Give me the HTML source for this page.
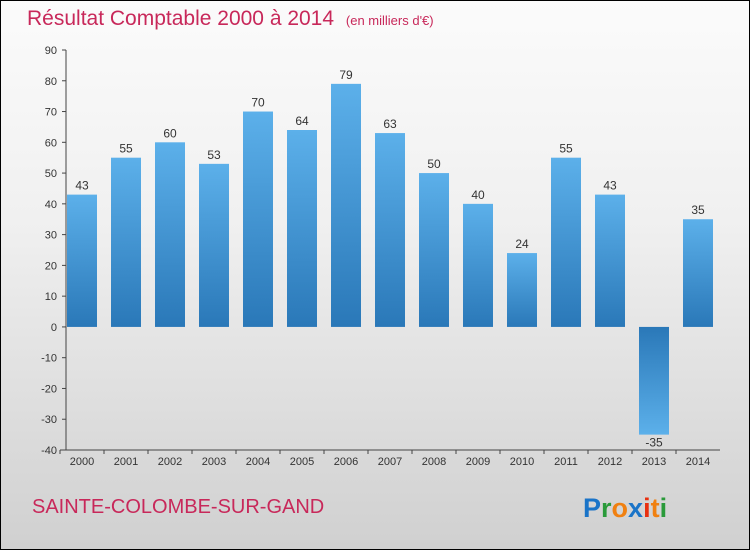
<!DOCTYPE html>
<html><head><meta charset="utf-8"><style>
body{margin:0}
#c{position:relative;width:750px;height:550px;box-sizing:border-box;border:1px solid #000;background:linear-gradient(#fbfbfb,#f0f0f0 40%,#d0d0d0);font-family:"Liberation Sans",sans-serif;overflow:hidden}
</style></head><body>
<div id="c">
<svg width="750" height="550" style="position:absolute;left:-1px;top:-1px">
<defs>
<linearGradient id="gp" x1="0" y1="0" x2="0" y2="1"><stop offset="0" stop-color="#5cb0ea"/><stop offset="1" stop-color="#2a78b8"/></linearGradient>
<linearGradient id="gn" x1="0" y1="0" x2="0" y2="1"><stop offset="0" stop-color="#2a78b8"/><stop offset="1" stop-color="#5cb0ea"/></linearGradient>
</defs>
<text x="27" y="25" font-size="21" fill="#c8285a">Résultat Comptable 2000 à 2014 <tspan font-size="13" dx="6">(en milliers d'€)</tspan></text>
<g id="axes"></g><g id="bars"></g>
<text x="32" y="513" font-size="20" fill="#c8285a">SAINTE-COLOMBE-SUR-GAND</text>
<text x="583" y="517" font-size="27" font-weight="bold"><tspan fill="#1a74c8">P</tspan><tspan fill="#2a9a3a">r</tspan><tspan fill="#f08010">o</tspan><tspan fill="#1a74c8">x</tspan><tspan fill="#e83010">i</tspan><tspan fill="#f08010">t</tspan><tspan fill="#2a9a3a">i</tspan></text>
</svg>
</div>
<script>
const years=["2000","2001","2002","2003","2004","2005","2006","2007","2008","2009","2010","2011","2012","2013","2014"];
const values=[43,55,60,53,70,64,79,63,50,40,24,55,43,-35,35];
const yTicks=[90,80,70,60,50,40,30,20,10,0,-10,-20,-30,-40];
const NS="http://www.w3.org/2000/svg";
const y=v=>50+(90-v)*400/130;
const x=i=>82+i*44;
const ax=document.getElementById('axes'),bg=document.getElementById('bars');
function mk(t,a,p){const e=document.createElementNS(NS,t);for(const k in a)e.setAttribute(k,a[k]);p.appendChild(e);return e;}
let l=mk('line',{x1:66,y1:y(90),x2:66,y2:y(-40),stroke:'#444'},ax);


let xl=mk('line',{x1:60,y1:y(-40),x2:720,y2:y(-40),stroke:'#444'},ax);


yTicks.forEach(v=>{
 mk('line',{x1:62,x2:66,y1:y(v),y2:y(v),stroke:'#444'},ax);
 const t=mk('text',{x:57,y:y(v)+4,'font-size':11,fill:'#333','text-anchor':'end'},ax);t.textContent=v;
 
 
});
years.forEach((yr,i)=>{
 const v=values[i],top=y(Math.max(v,0)),bot=y(Math.min(v,0));
 const r=mk('rect',{x:x(i)-15,y:top,width:30,height:bot-top,fill:v<0?'url(#gn)':'url(#gp)'},bg);
 
 
 const lb=mk('text',{x:x(i),y:v<0?bot+12:top-5,'font-size':12,fill:'#333','text-anchor':'middle'},bg);lb.textContent=v;
 
 
 mk('line',{x1:x(i)-22,x2:x(i)-22,y1:y(-40),y2:y(-40)+4,stroke:'#444'},ax);
 const xt=mk('text',{x:x(i),y:465,'font-size':11,fill:'#333','text-anchor':'middle'},ax);xt.textContent=yr;
 
 
});
</script>
</body></html>
